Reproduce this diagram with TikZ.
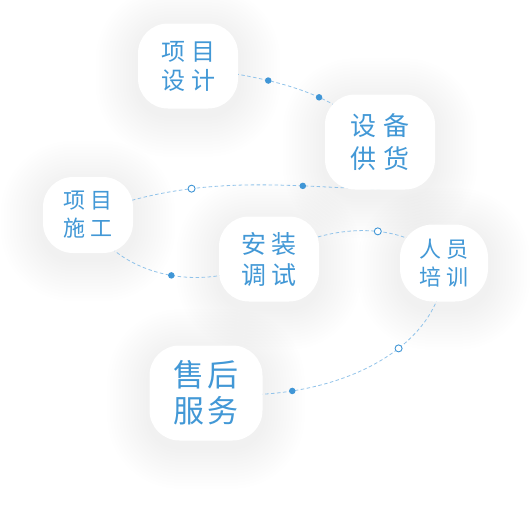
\documentclass[tikz,border=0pt]{standalone}
\usepackage{fontspec}
\newfontfamily\cjk{Noto Sans CJK SC}
\usepackage{tikz}
\usetikzlibrary{backgrounds}
\definecolor{stageblue}{RGB}{66, 152, 214}
\definecolor{linkblue}{RGB}{145, 195, 234}
\definecolor{dotblue}{RGB}{64, 150, 214}
\definecolor{shadowgray}{RGB}{130, 136, 150}

\begin{document}
\begin{tikzpicture}[
    x=1pt, y=-1pt,
    stage/.style={rectangle, rounded corners=30pt, fill=white, inner sep=0pt, align=center, text=stageblue},
    link/.style={dash pattern=on 3.5pt off 2.5pt, linkblue, line width=0.8pt},
    dotfull/.style={circle, solid, fill=dotblue, inner sep=0pt, minimum size=6.5pt},
    dotopen/.style={circle, solid, draw=dotblue, fill=white, line width=0.9pt, inner sep=0pt, minimum size=7pt}
]
\useasboundingbox (0,0) rectangle (532,509);

% Project design
\node[stage, minimum width=100pt, minimum height=85pt, font=\cjk\fontsize{24}{29}\selectfont] (design) at (188,66) {项\hspace{0.25em}目\\设\hspace{0.25em}计};

% Equipment supply
\node[stage, minimum width=110pt, minimum height=95pt, font=\cjk\fontsize{26}{33}\selectfont] (supply) at (380,142) {设\hspace{0.25em}备\\供\hspace{0.25em}货};

% Construction
\node[stage, minimum width=90pt, minimum height=76pt, font=\cjk\fontsize{22}{28}\selectfont] (construct) at (88,215) {项\hspace{0.25em}目\\施\hspace{0.25em}工};

% Installation
\node[stage, minimum width=100pt, minimum height=85pt, font=\cjk\fontsize{25}{31}\selectfont] (install) at (269,259) {安\hspace{0.2em}装\\调\hspace{0.2em}试};

% Training
\node[stage, rounded corners=33pt, minimum width=88pt, minimum height=77pt, font=\cjk\fontsize{22}{28}\selectfont] (training) at (444,263) {人\hspace{0.2em}员\\培\hspace{0.2em}训};

% After-sales
\node[stage, minimum width=113pt, minimum height=95pt, font=\cjk\fontsize{31}{36}\selectfont] (service) at (206,393) {售\hspace{0.1em}后\\服\hspace{0.1em}务};

\begin{pgfonlayer}{background}
\fill[white] (0,0) rectangle (532,509);
% soft shadows
\foreach \n in {design,supply,construct,install,training,service}{
  \foreach \k in {1,...,14}{
    \fill[shadowgray, opacity=0.0042, rounded corners=30pt+\k*3pt]
      ([xshift=-\k*3pt, yshift=\k*3pt-6pt]\n.north west) rectangle ([xshift=\k*3pt, yshift=-\k*3pt-6pt]\n.south east);
  }
}
% dashed links behind the boxes
\draw[link] (design.center) .. controls +(72,12) and +(-50,-57) .. (supply.center)
    node[dotfull, pos=0.38] (d1) {} node[dotfull, pos=0.64] (d2) {};
\draw[link] ([yshift=1pt]supply.south) .. controls +(-80,0) and +(112,-45) .. (construct.center)
    node[dotfull, pos=0.3] (d3) {} node[dotopen, pos=0.68] (d4) {};
\draw[link] (construct.center) .. controls +(17,50) and +(-80,42) .. (install.center)
    node[dotfull, pos=0.58] (d5) {};
\draw[link] (install.center) .. controls +(50,-33) and +(-44,-48) .. (training.center)
    node[dotopen, pos=0.6] (d6) {};
\draw[link] (training.center) .. controls +(1,87) and +(124,13) .. (service.center)
    node[dotopen, pos=0.39] (d7) {} node[dotfull, pos=0.76] (d8) {};
\end{pgfonlayer}
\end{tikzpicture}
\end{document}
